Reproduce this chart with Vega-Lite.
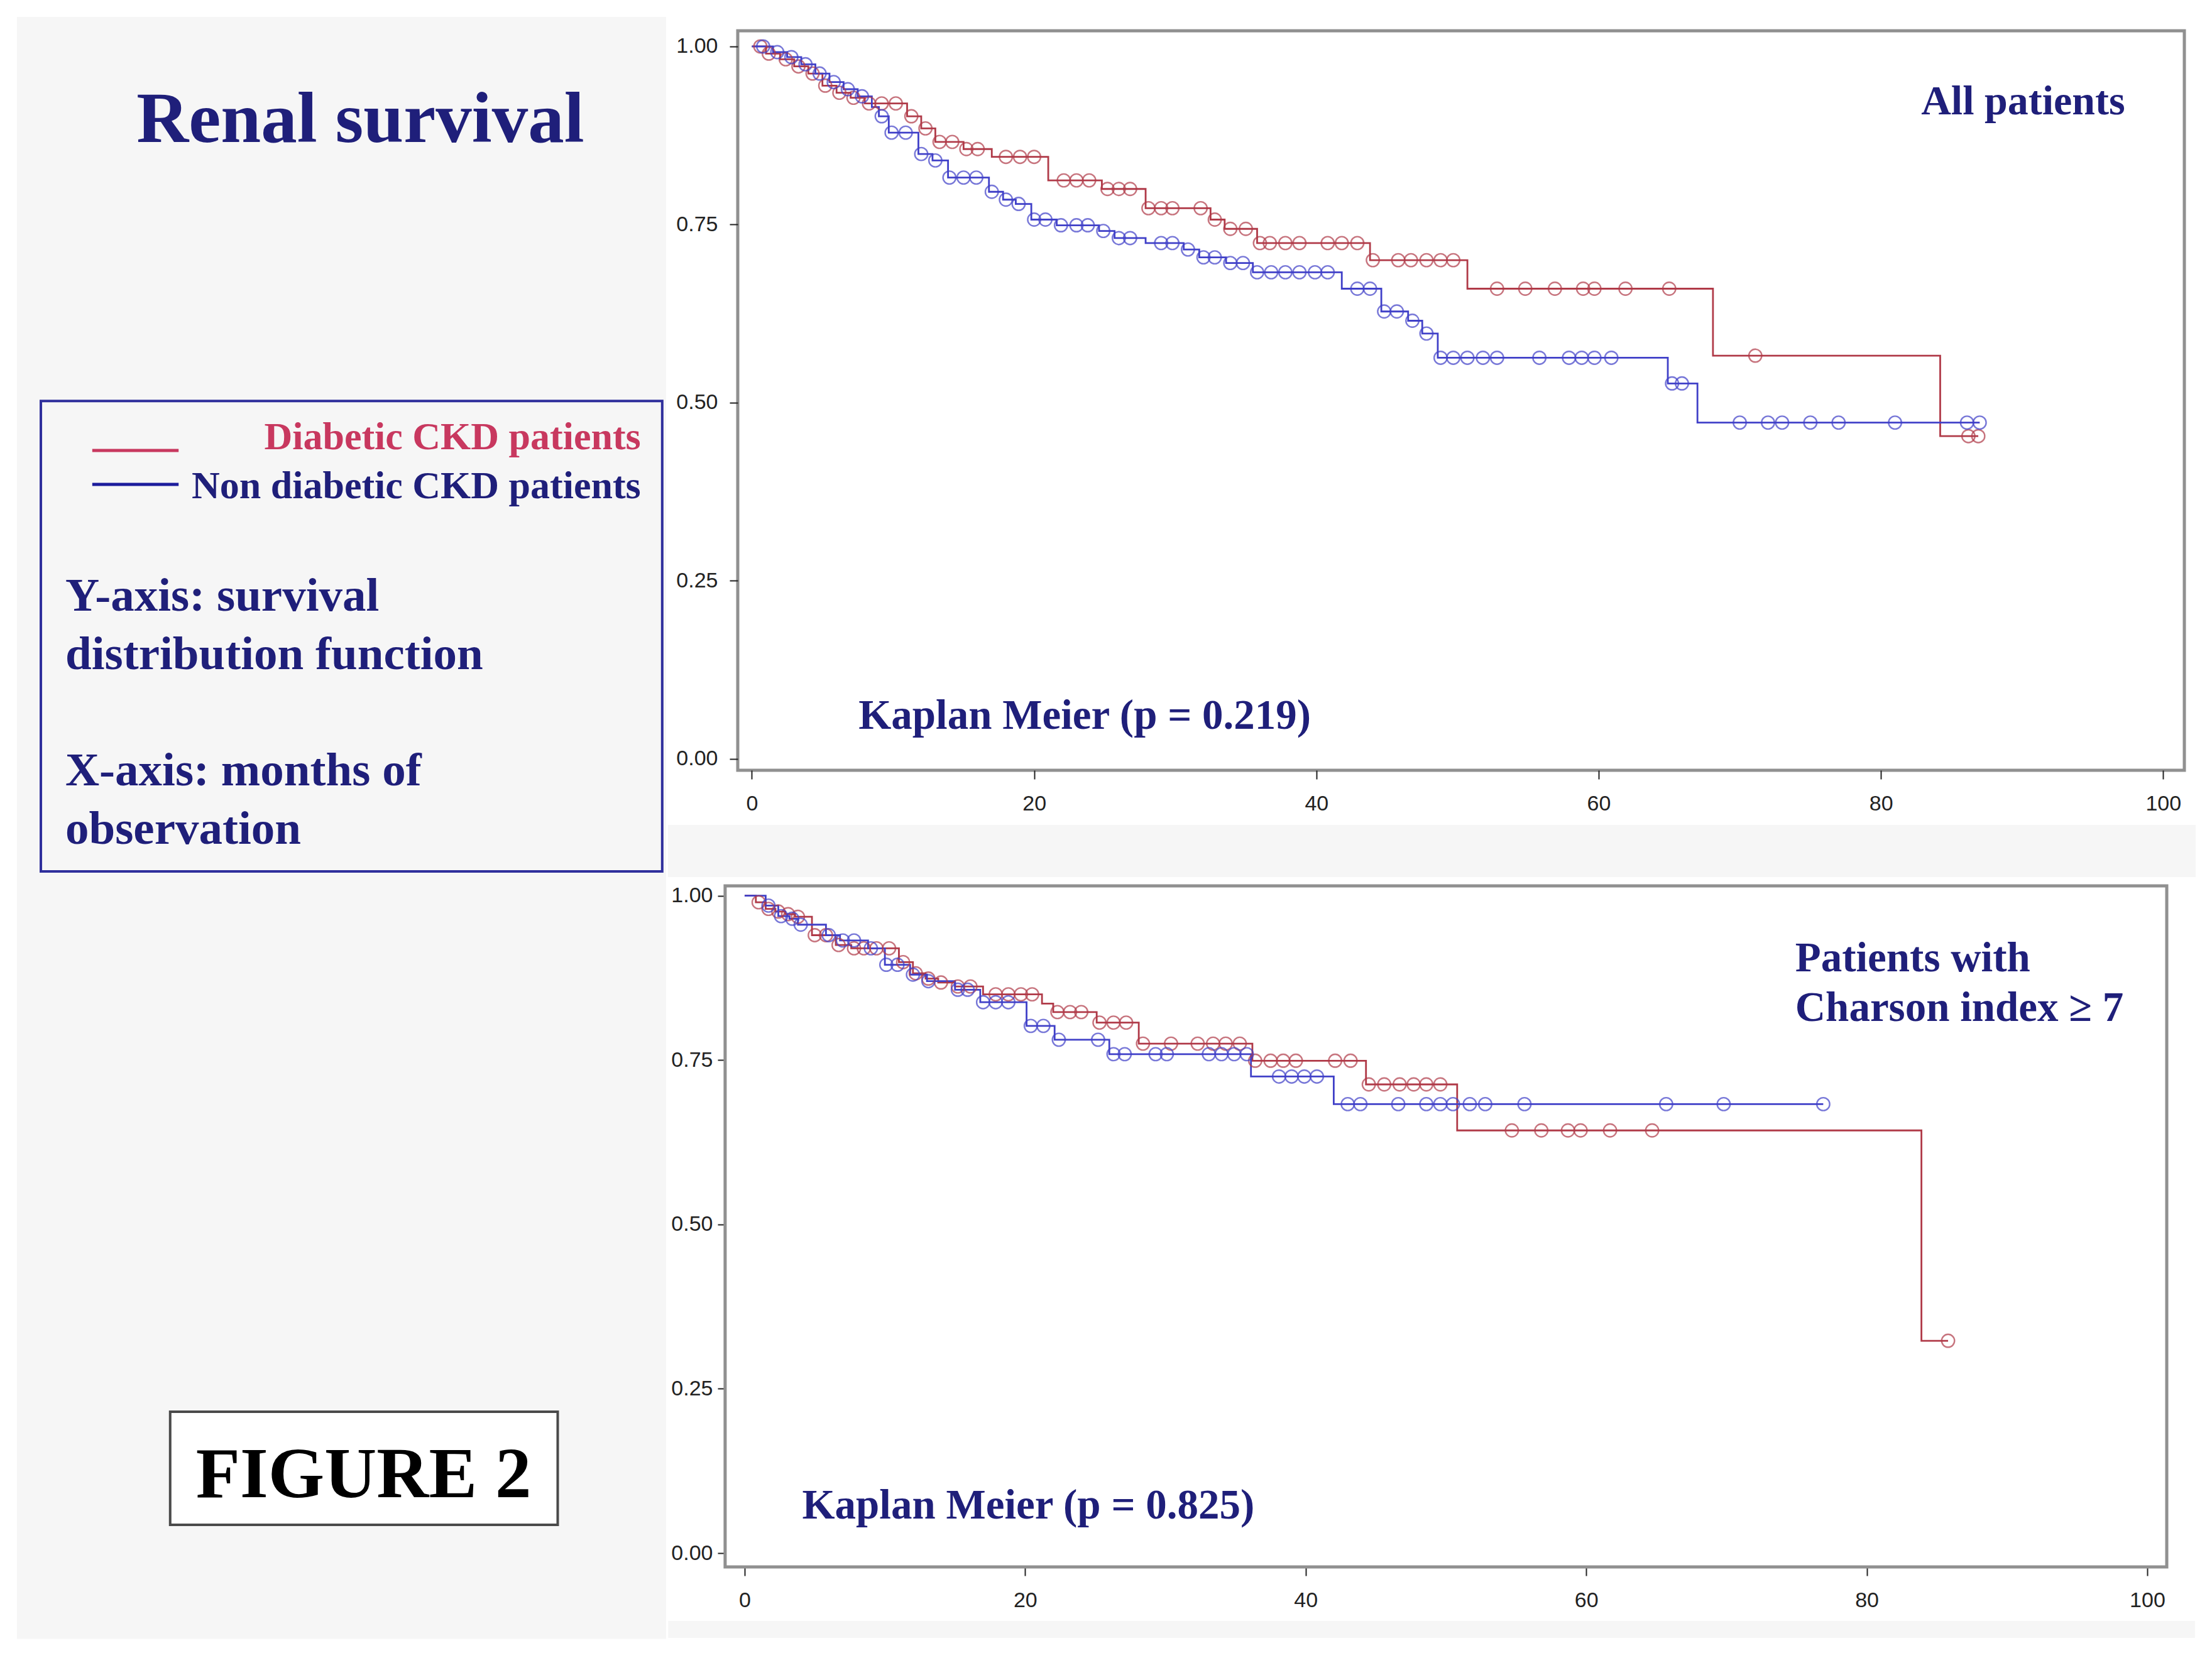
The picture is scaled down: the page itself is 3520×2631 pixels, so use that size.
{
  "$schema": "https://vega.github.io/schema/vega-lite/v6.json",
  "background": "#ffffff",
  "padding": {"left": 27, "top": 27, "right": 5, "bottom": 0},
  "columns": 2,
  "align": "none",
  "spacing": 0,
  "datasets": {
    "km": [
      {"panel": "all", "group": "Diabetic", "month": 0, "survival": 1, "censored": 0},
      {"panel": "all", "group": "Diabetic", "month": 0.6, "survival": 1, "censored": 1},
      {"panel": "all", "group": "Diabetic", "month": 1.0, "survival": 0.99, "censored": 0},
      {"panel": "all", "group": "Diabetic", "month": 1.2, "survival": 0.99, "censored": 1},
      {"panel": "all", "group": "Diabetic", "month": 2.0, "survival": 0.982, "censored": 0},
      {"panel": "all", "group": "Diabetic", "month": 2.4, "survival": 0.982, "censored": 1},
      {"panel": "all", "group": "Diabetic", "month": 3.0, "survival": 0.972, "censored": 0},
      {"panel": "all", "group": "Diabetic", "month": 3.3, "survival": 0.972, "censored": 1},
      {"panel": "all", "group": "Diabetic", "month": 4.0, "survival": 0.962, "censored": 0},
      {"panel": "all", "group": "Diabetic", "month": 4.3, "survival": 0.962, "censored": 1},
      {"panel": "all", "group": "Diabetic", "month": 5.0, "survival": 0.945, "censored": 0},
      {"panel": "all", "group": "Diabetic", "month": 5.2, "survival": 0.945, "censored": 1},
      {"panel": "all", "group": "Diabetic", "month": 6.0, "survival": 0.935, "censored": 0},
      {"panel": "all", "group": "Diabetic", "month": 6.2, "survival": 0.935, "censored": 1},
      {"panel": "all", "group": "Diabetic", "month": 7.0, "survival": 0.928, "censored": 0},
      {"panel": "all", "group": "Diabetic", "month": 7.2, "survival": 0.928, "censored": 1},
      {"panel": "all", "group": "Diabetic", "month": 8.0, "survival": 0.92, "censored": 0},
      {"panel": "all", "group": "Diabetic", "month": 8.3, "survival": 0.92, "censored": 1},
      {"panel": "all", "group": "Diabetic", "month": 9.2, "survival": 0.92, "censored": 1},
      {"panel": "all", "group": "Diabetic", "month": 10.2, "survival": 0.92, "censored": 1},
      {"panel": "all", "group": "Diabetic", "month": 11.0, "survival": 0.902, "censored": 0},
      {"panel": "all", "group": "Diabetic", "month": 11.3, "survival": 0.902, "censored": 1},
      {"panel": "all", "group": "Diabetic", "month": 12.0, "survival": 0.885, "censored": 0},
      {"panel": "all", "group": "Diabetic", "month": 12.3, "survival": 0.885, "censored": 1},
      {"panel": "all", "group": "Diabetic", "month": 13.0, "survival": 0.866, "censored": 0},
      {"panel": "all", "group": "Diabetic", "month": 13.3, "survival": 0.866, "censored": 1},
      {"panel": "all", "group": "Diabetic", "month": 14.2, "survival": 0.866, "censored": 1},
      {"panel": "all", "group": "Diabetic", "month": 15.0, "survival": 0.856, "censored": 0},
      {"panel": "all", "group": "Diabetic", "month": 15.2, "survival": 0.856, "censored": 1},
      {"panel": "all", "group": "Diabetic", "month": 16.0, "survival": 0.856, "censored": 1},
      {"panel": "all", "group": "Diabetic", "month": 17.0, "survival": 0.845, "censored": 0},
      {"panel": "all", "group": "Diabetic", "month": 18.0, "survival": 0.845, "censored": 1},
      {"panel": "all", "group": "Diabetic", "month": 19.0, "survival": 0.845, "censored": 1},
      {"panel": "all", "group": "Diabetic", "month": 20.0, "survival": 0.845, "censored": 1},
      {"panel": "all", "group": "Diabetic", "month": 21.0, "survival": 0.812, "censored": 0},
      {"panel": "all", "group": "Diabetic", "month": 22.1, "survival": 0.812, "censored": 1},
      {"panel": "all", "group": "Diabetic", "month": 23.0, "survival": 0.812, "censored": 1},
      {"panel": "all", "group": "Diabetic", "month": 23.9, "survival": 0.812, "censored": 1},
      {"panel": "all", "group": "Diabetic", "month": 24.8, "survival": 0.8, "censored": 0},
      {"panel": "all", "group": "Diabetic", "month": 25.2, "survival": 0.8, "censored": 1},
      {"panel": "all", "group": "Diabetic", "month": 26.0, "survival": 0.8, "censored": 1},
      {"panel": "all", "group": "Diabetic", "month": 26.8, "survival": 0.8, "censored": 1},
      {"panel": "all", "group": "Diabetic", "month": 27.9, "survival": 0.773, "censored": 0},
      {"panel": "all", "group": "Diabetic", "month": 28.1, "survival": 0.773, "censored": 1},
      {"panel": "all", "group": "Diabetic", "month": 29.0, "survival": 0.773, "censored": 1},
      {"panel": "all", "group": "Diabetic", "month": 29.8, "survival": 0.773, "censored": 1},
      {"panel": "all", "group": "Diabetic", "month": 31.8, "survival": 0.773, "censored": 1},
      {"panel": "all", "group": "Diabetic", "month": 32.5, "survival": 0.757, "censored": 0},
      {"panel": "all", "group": "Diabetic", "month": 32.8, "survival": 0.757, "censored": 1},
      {"panel": "all", "group": "Diabetic", "month": 33.5, "survival": 0.744, "censored": 0},
      {"panel": "all", "group": "Diabetic", "month": 33.9, "survival": 0.744, "censored": 1},
      {"panel": "all", "group": "Diabetic", "month": 35.0, "survival": 0.744, "censored": 1},
      {"panel": "all", "group": "Diabetic", "month": 35.8, "survival": 0.724, "censored": 0},
      {"panel": "all", "group": "Diabetic", "month": 36.0, "survival": 0.724, "censored": 1},
      {"panel": "all", "group": "Diabetic", "month": 36.7, "survival": 0.724, "censored": 1},
      {"panel": "all", "group": "Diabetic", "month": 37.8, "survival": 0.724, "censored": 1},
      {"panel": "all", "group": "Diabetic", "month": 38.8, "survival": 0.724, "censored": 1},
      {"panel": "all", "group": "Diabetic", "month": 40.8, "survival": 0.724, "censored": 1},
      {"panel": "all", "group": "Diabetic", "month": 41.8, "survival": 0.724, "censored": 1},
      {"panel": "all", "group": "Diabetic", "month": 42.9, "survival": 0.724, "censored": 1},
      {"panel": "all", "group": "Diabetic", "month": 43.8, "survival": 0.7, "censored": 0},
      {"panel": "all", "group": "Diabetic", "month": 44.0, "survival": 0.7, "censored": 1},
      {"panel": "all", "group": "Diabetic", "month": 45.8, "survival": 0.7, "censored": 1},
      {"panel": "all", "group": "Diabetic", "month": 46.7, "survival": 0.7, "censored": 1},
      {"panel": "all", "group": "Diabetic", "month": 47.8, "survival": 0.7, "censored": 1},
      {"panel": "all", "group": "Diabetic", "month": 48.8, "survival": 0.7, "censored": 1},
      {"panel": "all", "group": "Diabetic", "month": 49.7, "survival": 0.7, "censored": 1},
      {"panel": "all", "group": "Diabetic", "month": 50.7, "survival": 0.66, "censored": 0},
      {"panel": "all", "group": "Diabetic", "month": 52.8, "survival": 0.66, "censored": 1},
      {"panel": "all", "group": "Diabetic", "month": 54.8, "survival": 0.66, "censored": 1},
      {"panel": "all", "group": "Diabetic", "month": 56.9, "survival": 0.66, "censored": 1},
      {"panel": "all", "group": "Diabetic", "month": 58.9, "survival": 0.66, "censored": 1},
      {"panel": "all", "group": "Diabetic", "month": 59.7, "survival": 0.66, "censored": 1},
      {"panel": "all", "group": "Diabetic", "month": 61.9, "survival": 0.66, "censored": 1},
      {"panel": "all", "group": "Diabetic", "month": 65.0, "survival": 0.66, "censored": 1},
      {"panel": "all", "group": "Diabetic", "month": 68.1, "survival": 0.566, "censored": 0},
      {"panel": "all", "group": "Diabetic", "month": 71.1, "survival": 0.566, "censored": 1},
      {"panel": "all", "group": "Diabetic", "month": 84.2, "survival": 0.453, "censored": 0},
      {"panel": "all", "group": "Diabetic", "month": 86.2, "survival": 0.453, "censored": 1},
      {"panel": "all", "group": "Diabetic", "month": 86.9, "survival": 0.453, "censored": 1},

      {"panel": "all", "group": "Non diabetic", "month": 0, "survival": 1, "censored": 0},
      {"panel": "all", "group": "Non diabetic", "month": 0.8, "survival": 1, "censored": 1},
      {"panel": "all", "group": "Non diabetic", "month": 1.5, "survival": 0.992, "censored": 0},
      {"panel": "all", "group": "Non diabetic", "month": 1.8, "survival": 0.992, "censored": 1},
      {"panel": "all", "group": "Non diabetic", "month": 2.5, "survival": 0.985, "censored": 0},
      {"panel": "all", "group": "Non diabetic", "month": 2.8, "survival": 0.985, "censored": 1},
      {"panel": "all", "group": "Non diabetic", "month": 3.5, "survival": 0.975, "censored": 0},
      {"panel": "all", "group": "Non diabetic", "month": 3.8, "survival": 0.975, "censored": 1},
      {"panel": "all", "group": "Non diabetic", "month": 4.5, "survival": 0.962, "censored": 0},
      {"panel": "all", "group": "Non diabetic", "month": 4.8, "survival": 0.962, "censored": 1},
      {"panel": "all", "group": "Non diabetic", "month": 5.5, "survival": 0.95, "censored": 0},
      {"panel": "all", "group": "Non diabetic", "month": 5.8, "survival": 0.95, "censored": 1},
      {"panel": "all", "group": "Non diabetic", "month": 6.5, "survival": 0.94, "censored": 0},
      {"panel": "all", "group": "Non diabetic", "month": 6.8, "survival": 0.94, "censored": 1},
      {"panel": "all", "group": "Non diabetic", "month": 7.5, "survival": 0.93, "censored": 0},
      {"panel": "all", "group": "Non diabetic", "month": 7.8, "survival": 0.93, "censored": 1},
      {"panel": "all", "group": "Non diabetic", "month": 8.5, "survival": 0.915, "censored": 0},
      {"panel": "all", "group": "Non diabetic", "month": 9.0, "survival": 0.902, "censored": 0},
      {"panel": "all", "group": "Non diabetic", "month": 9.2, "survival": 0.902, "censored": 1},
      {"panel": "all", "group": "Non diabetic", "month": 9.7, "survival": 0.879, "censored": 0},
      {"panel": "all", "group": "Non diabetic", "month": 9.9, "survival": 0.879, "censored": 1},
      {"panel": "all", "group": "Non diabetic", "month": 10.9, "survival": 0.879, "censored": 1},
      {"panel": "all", "group": "Non diabetic", "month": 11.8, "survival": 0.849, "censored": 0},
      {"panel": "all", "group": "Non diabetic", "month": 12.0, "survival": 0.849, "censored": 1},
      {"panel": "all", "group": "Non diabetic", "month": 12.8, "survival": 0.84, "censored": 0},
      {"panel": "all", "group": "Non diabetic", "month": 13.0, "survival": 0.84, "censored": 1},
      {"panel": "all", "group": "Non diabetic", "month": 13.9, "survival": 0.816, "censored": 0},
      {"panel": "all", "group": "Non diabetic", "month": 14.0, "survival": 0.816, "censored": 1},
      {"panel": "all", "group": "Non diabetic", "month": 15.0, "survival": 0.816, "censored": 1},
      {"panel": "all", "group": "Non diabetic", "month": 15.9, "survival": 0.816, "censored": 1},
      {"panel": "all", "group": "Non diabetic", "month": 16.8, "survival": 0.796, "censored": 0},
      {"panel": "all", "group": "Non diabetic", "month": 17.0, "survival": 0.796, "censored": 1},
      {"panel": "all", "group": "Non diabetic", "month": 17.8, "survival": 0.785, "censored": 0},
      {"panel": "all", "group": "Non diabetic", "month": 18.0, "survival": 0.785, "censored": 1},
      {"panel": "all", "group": "Non diabetic", "month": 18.7, "survival": 0.779, "censored": 0},
      {"panel": "all", "group": "Non diabetic", "month": 18.9, "survival": 0.779, "censored": 1},
      {"panel": "all", "group": "Non diabetic", "month": 19.8, "survival": 0.757, "censored": 0},
      {"panel": "all", "group": "Non diabetic", "month": 20.0, "survival": 0.757, "censored": 1},
      {"panel": "all", "group": "Non diabetic", "month": 20.8, "survival": 0.757, "censored": 1},
      {"panel": "all", "group": "Non diabetic", "month": 21.6, "survival": 0.749, "censored": 0},
      {"panel": "all", "group": "Non diabetic", "month": 21.9, "survival": 0.749, "censored": 1},
      {"panel": "all", "group": "Non diabetic", "month": 23.0, "survival": 0.749, "censored": 1},
      {"panel": "all", "group": "Non diabetic", "month": 23.8, "survival": 0.749, "censored": 1},
      {"panel": "all", "group": "Non diabetic", "month": 24.6, "survival": 0.741, "censored": 0},
      {"panel": "all", "group": "Non diabetic", "month": 24.9, "survival": 0.741, "censored": 1},
      {"panel": "all", "group": "Non diabetic", "month": 25.7, "survival": 0.731, "censored": 0},
      {"panel": "all", "group": "Non diabetic", "month": 26.0, "survival": 0.731, "censored": 1},
      {"panel": "all", "group": "Non diabetic", "month": 26.8, "survival": 0.731, "censored": 1},
      {"panel": "all", "group": "Non diabetic", "month": 27.9, "survival": 0.724, "censored": 0},
      {"panel": "all", "group": "Non diabetic", "month": 29.0, "survival": 0.724, "censored": 1},
      {"panel": "all", "group": "Non diabetic", "month": 29.8, "survival": 0.724, "censored": 1},
      {"panel": "all", "group": "Non diabetic", "month": 30.6, "survival": 0.715, "censored": 0},
      {"panel": "all", "group": "Non diabetic", "month": 30.9, "survival": 0.715, "censored": 1},
      {"panel": "all", "group": "Non diabetic", "month": 31.7, "survival": 0.704, "censored": 0},
      {"panel": "all", "group": "Non diabetic", "month": 32.0, "survival": 0.704, "censored": 1},
      {"panel": "all", "group": "Non diabetic", "month": 32.8, "survival": 0.704, "censored": 1},
      {"panel": "all", "group": "Non diabetic", "month": 33.6, "survival": 0.696, "censored": 0},
      {"panel": "all", "group": "Non diabetic", "month": 33.9, "survival": 0.696, "censored": 1},
      {"panel": "all", "group": "Non diabetic", "month": 34.8, "survival": 0.696, "censored": 1},
      {"panel": "all", "group": "Non diabetic", "month": 35.5, "survival": 0.683, "censored": 0},
      {"panel": "all", "group": "Non diabetic", "month": 35.8, "survival": 0.683, "censored": 1},
      {"panel": "all", "group": "Non diabetic", "month": 36.8, "survival": 0.683, "censored": 1},
      {"panel": "all", "group": "Non diabetic", "month": 37.8, "survival": 0.683, "censored": 1},
      {"panel": "all", "group": "Non diabetic", "month": 38.8, "survival": 0.683, "censored": 1},
      {"panel": "all", "group": "Non diabetic", "month": 39.9, "survival": 0.683, "censored": 1},
      {"panel": "all", "group": "Non diabetic", "month": 40.8, "survival": 0.683, "censored": 1},
      {"panel": "all", "group": "Non diabetic", "month": 41.8, "survival": 0.66, "censored": 0},
      {"panel": "all", "group": "Non diabetic", "month": 42.9, "survival": 0.66, "censored": 1},
      {"panel": "all", "group": "Non diabetic", "month": 43.8, "survival": 0.66, "censored": 1},
      {"panel": "all", "group": "Non diabetic", "month": 44.6, "survival": 0.628, "censored": 0},
      {"panel": "all", "group": "Non diabetic", "month": 44.8, "survival": 0.628, "censored": 1},
      {"panel": "all", "group": "Non diabetic", "month": 45.7, "survival": 0.628, "censored": 1},
      {"panel": "all", "group": "Non diabetic", "month": 46.5, "survival": 0.615, "censored": 0},
      {"panel": "all", "group": "Non diabetic", "month": 46.8, "survival": 0.615, "censored": 1},
      {"panel": "all", "group": "Non diabetic", "month": 47.5, "survival": 0.597, "censored": 0},
      {"panel": "all", "group": "Non diabetic", "month": 47.8, "survival": 0.597, "censored": 1},
      {"panel": "all", "group": "Non diabetic", "month": 48.6, "survival": 0.563, "censored": 0},
      {"panel": "all", "group": "Non diabetic", "month": 48.8, "survival": 0.563, "censored": 1},
      {"panel": "all", "group": "Non diabetic", "month": 49.7, "survival": 0.563, "censored": 1},
      {"panel": "all", "group": "Non diabetic", "month": 50.7, "survival": 0.563, "censored": 1},
      {"panel": "all", "group": "Non diabetic", "month": 51.8, "survival": 0.563, "censored": 1},
      {"panel": "all", "group": "Non diabetic", "month": 52.8, "survival": 0.563, "censored": 1},
      {"panel": "all", "group": "Non diabetic", "month": 55.8, "survival": 0.563, "censored": 1},
      {"panel": "all", "group": "Non diabetic", "month": 57.9, "survival": 0.563, "censored": 1},
      {"panel": "all", "group": "Non diabetic", "month": 58.8, "survival": 0.563, "censored": 1},
      {"panel": "all", "group": "Non diabetic", "month": 59.7, "survival": 0.563, "censored": 1},
      {"panel": "all", "group": "Non diabetic", "month": 60.9, "survival": 0.563, "censored": 1},
      {"panel": "all", "group": "Non diabetic", "month": 64.9, "survival": 0.527, "censored": 0},
      {"panel": "all", "group": "Non diabetic", "month": 65.2, "survival": 0.527, "censored": 1},
      {"panel": "all", "group": "Non diabetic", "month": 65.9, "survival": 0.527, "censored": 1},
      {"panel": "all", "group": "Non diabetic", "month": 67.0, "survival": 0.472, "censored": 0},
      {"panel": "all", "group": "Non diabetic", "month": 70.0, "survival": 0.472, "censored": 1},
      {"panel": "all", "group": "Non diabetic", "month": 72.0, "survival": 0.472, "censored": 1},
      {"panel": "all", "group": "Non diabetic", "month": 73.0, "survival": 0.472, "censored": 1},
      {"panel": "all", "group": "Non diabetic", "month": 75.0, "survival": 0.472, "censored": 1},
      {"panel": "all", "group": "Non diabetic", "month": 77.0, "survival": 0.472, "censored": 1},
      {"panel": "all", "group": "Non diabetic", "month": 81.0, "survival": 0.472, "censored": 1},
      {"panel": "all", "group": "Non diabetic", "month": 86.1, "survival": 0.472, "censored": 1},
      {"panel": "all", "group": "Non diabetic", "month": 87.0, "survival": 0.472, "censored": 1},

      {"panel": "ch7", "group": "Diabetic", "month": 0, "survival": 1, "censored": 0},
      {"panel": "ch7", "group": "Diabetic", "month": 0.8, "survival": 0.99, "censored": 0},
      {"panel": "ch7", "group": "Diabetic", "month": 1.0, "survival": 0.99, "censored": 1},
      {"panel": "ch7", "group": "Diabetic", "month": 1.5, "survival": 0.98, "censored": 0},
      {"panel": "ch7", "group": "Diabetic", "month": 1.7, "survival": 0.98, "censored": 1},
      {"panel": "ch7", "group": "Diabetic", "month": 2.2, "survival": 0.976, "censored": 0},
      {"panel": "ch7", "group": "Diabetic", "month": 2.4, "survival": 0.976, "censored": 1},
      {"panel": "ch7", "group": "Diabetic", "month": 2.9, "survival": 0.972, "censored": 0},
      {"panel": "ch7", "group": "Diabetic", "month": 3.1, "survival": 0.972, "censored": 1},
      {"panel": "ch7", "group": "Diabetic", "month": 3.6, "survival": 0.968, "censored": 0},
      {"panel": "ch7", "group": "Diabetic", "month": 3.8, "survival": 0.968, "censored": 1},
      {"panel": "ch7", "group": "Diabetic", "month": 4.8, "survival": 0.94, "censored": 0},
      {"panel": "ch7", "group": "Diabetic", "month": 5.0, "survival": 0.94, "censored": 1},
      {"panel": "ch7", "group": "Diabetic", "month": 5.8, "survival": 0.94, "censored": 1},
      {"panel": "ch7", "group": "Diabetic", "month": 6.5, "survival": 0.925, "censored": 0},
      {"panel": "ch7", "group": "Diabetic", "month": 6.7, "survival": 0.925, "censored": 1},
      {"panel": "ch7", "group": "Diabetic", "month": 7.6, "survival": 0.92, "censored": 0},
      {"panel": "ch7", "group": "Diabetic", "month": 7.8, "survival": 0.92, "censored": 1},
      {"panel": "ch7", "group": "Diabetic", "month": 8.5, "survival": 0.92, "censored": 1},
      {"panel": "ch7", "group": "Diabetic", "month": 9.4, "survival": 0.92, "censored": 1},
      {"panel": "ch7", "group": "Diabetic", "month": 10.3, "survival": 0.92, "censored": 1},
      {"panel": "ch7", "group": "Diabetic", "month": 11.0, "survival": 0.899, "censored": 0},
      {"panel": "ch7", "group": "Diabetic", "month": 11.3, "survival": 0.899, "censored": 1},
      {"panel": "ch7", "group": "Diabetic", "month": 12.0, "survival": 0.882, "censored": 0},
      {"panel": "ch7", "group": "Diabetic", "month": 12.2, "survival": 0.882, "censored": 1},
      {"panel": "ch7", "group": "Diabetic", "month": 12.9, "survival": 0.874, "censored": 0},
      {"panel": "ch7", "group": "Diabetic", "month": 13.1, "survival": 0.874, "censored": 1},
      {"panel": "ch7", "group": "Diabetic", "month": 13.8, "survival": 0.868, "censored": 0},
      {"panel": "ch7", "group": "Diabetic", "month": 14.0, "survival": 0.868, "censored": 1},
      {"panel": "ch7", "group": "Diabetic", "month": 15.0, "survival": 0.862, "censored": 0},
      {"panel": "ch7", "group": "Diabetic", "month": 15.2, "survival": 0.862, "censored": 1},
      {"panel": "ch7", "group": "Diabetic", "month": 16.1, "survival": 0.862, "censored": 1},
      {"panel": "ch7", "group": "Diabetic", "month": 17.0, "survival": 0.85, "censored": 0},
      {"panel": "ch7", "group": "Diabetic", "month": 17.9, "survival": 0.85, "censored": 1},
      {"panel": "ch7", "group": "Diabetic", "month": 18.8, "survival": 0.85, "censored": 1},
      {"panel": "ch7", "group": "Diabetic", "month": 19.7, "survival": 0.85, "censored": 1},
      {"panel": "ch7", "group": "Diabetic", "month": 20.5, "survival": 0.85, "censored": 1},
      {"panel": "ch7", "group": "Diabetic", "month": 21.2, "survival": 0.836, "censored": 0},
      {"panel": "ch7", "group": "Diabetic", "month": 22.0, "survival": 0.823, "censored": 0},
      {"panel": "ch7", "group": "Diabetic", "month": 22.3, "survival": 0.823, "censored": 1},
      {"panel": "ch7", "group": "Diabetic", "month": 23.2, "survival": 0.823, "censored": 1},
      {"panel": "ch7", "group": "Diabetic", "month": 24.0, "survival": 0.823, "censored": 1},
      {"panel": "ch7", "group": "Diabetic", "month": 25.1, "survival": 0.807, "censored": 0},
      {"panel": "ch7", "group": "Diabetic", "month": 25.3, "survival": 0.807, "censored": 1},
      {"panel": "ch7", "group": "Diabetic", "month": 26.3, "survival": 0.807, "censored": 1},
      {"panel": "ch7", "group": "Diabetic", "month": 27.2, "survival": 0.807, "censored": 1},
      {"panel": "ch7", "group": "Diabetic", "month": 28.1, "survival": 0.775, "censored": 0},
      {"panel": "ch7", "group": "Diabetic", "month": 28.4, "survival": 0.775, "censored": 1},
      {"panel": "ch7", "group": "Diabetic", "month": 30.4, "survival": 0.775, "censored": 1},
      {"panel": "ch7", "group": "Diabetic", "month": 32.3, "survival": 0.775, "censored": 1},
      {"panel": "ch7", "group": "Diabetic", "month": 33.4, "survival": 0.775, "censored": 1},
      {"panel": "ch7", "group": "Diabetic", "month": 34.3, "survival": 0.775, "censored": 1},
      {"panel": "ch7", "group": "Diabetic", "month": 35.3, "survival": 0.775, "censored": 1},
      {"panel": "ch7", "group": "Diabetic", "month": 36.2, "survival": 0.749, "censored": 0},
      {"panel": "ch7", "group": "Diabetic", "month": 36.4, "survival": 0.749, "censored": 1},
      {"panel": "ch7", "group": "Diabetic", "month": 37.5, "survival": 0.749, "censored": 1},
      {"panel": "ch7", "group": "Diabetic", "month": 38.4, "survival": 0.749, "censored": 1},
      {"panel": "ch7", "group": "Diabetic", "month": 39.3, "survival": 0.749, "censored": 1},
      {"panel": "ch7", "group": "Diabetic", "month": 42.1, "survival": 0.749, "censored": 1},
      {"panel": "ch7", "group": "Diabetic", "month": 43.2, "survival": 0.749, "censored": 1},
      {"panel": "ch7", "group": "Diabetic", "month": 44.3, "survival": 0.713, "censored": 0},
      {"panel": "ch7", "group": "Diabetic", "month": 44.5, "survival": 0.713, "censored": 1},
      {"panel": "ch7", "group": "Diabetic", "month": 45.6, "survival": 0.713, "censored": 1},
      {"panel": "ch7", "group": "Diabetic", "month": 46.7, "survival": 0.713, "censored": 1},
      {"panel": "ch7", "group": "Diabetic", "month": 47.7, "survival": 0.713, "censored": 1},
      {"panel": "ch7", "group": "Diabetic", "month": 48.6, "survival": 0.713, "censored": 1},
      {"panel": "ch7", "group": "Diabetic", "month": 49.6, "survival": 0.713, "censored": 1},
      {"panel": "ch7", "group": "Diabetic", "month": 50.8, "survival": 0.643, "censored": 0},
      {"panel": "ch7", "group": "Diabetic", "month": 54.7, "survival": 0.643, "censored": 1},
      {"panel": "ch7", "group": "Diabetic", "month": 56.8, "survival": 0.643, "censored": 1},
      {"panel": "ch7", "group": "Diabetic", "month": 58.7, "survival": 0.643, "censored": 1},
      {"panel": "ch7", "group": "Diabetic", "month": 59.6, "survival": 0.643, "censored": 1},
      {"panel": "ch7", "group": "Diabetic", "month": 61.7, "survival": 0.643, "censored": 1},
      {"panel": "ch7", "group": "Diabetic", "month": 64.7, "survival": 0.643, "censored": 1},
      {"panel": "ch7", "group": "Diabetic", "month": 83.9, "survival": 0.323, "censored": 0},
      {"panel": "ch7", "group": "Diabetic", "month": 85.8, "survival": 0.323, "censored": 1},

      {"panel": "ch7", "group": "Non diabetic", "month": 0, "survival": 1, "censored": 0},
      {"panel": "ch7", "group": "Non diabetic", "month": 1.5, "survival": 0.985, "censored": 0},
      {"panel": "ch7", "group": "Non diabetic", "month": 1.7, "survival": 0.985, "censored": 1},
      {"panel": "ch7", "group": "Non diabetic", "month": 2.4, "survival": 0.969, "censored": 0},
      {"panel": "ch7", "group": "Non diabetic", "month": 2.6, "survival": 0.969, "censored": 1},
      {"panel": "ch7", "group": "Non diabetic", "month": 3.2, "survival": 0.965, "censored": 0},
      {"panel": "ch7", "group": "Non diabetic", "month": 3.4, "survival": 0.965, "censored": 1},
      {"panel": "ch7", "group": "Non diabetic", "month": 3.8, "survival": 0.956, "censored": 0},
      {"panel": "ch7", "group": "Non diabetic", "month": 4.0, "survival": 0.956, "censored": 1},
      {"panel": "ch7", "group": "Non diabetic", "month": 5.8, "survival": 0.94, "censored": 0},
      {"panel": "ch7", "group": "Non diabetic", "month": 6.0, "survival": 0.94, "censored": 1},
      {"panel": "ch7", "group": "Non diabetic", "month": 6.8, "survival": 0.932, "censored": 0},
      {"panel": "ch7", "group": "Non diabetic", "month": 7.0, "survival": 0.932, "censored": 1},
      {"panel": "ch7", "group": "Non diabetic", "month": 7.8, "survival": 0.932, "censored": 1},
      {"panel": "ch7", "group": "Non diabetic", "month": 8.8, "survival": 0.92, "censored": 0},
      {"panel": "ch7", "group": "Non diabetic", "month": 9.0, "survival": 0.92, "censored": 1},
      {"panel": "ch7", "group": "Non diabetic", "month": 10.0, "survival": 0.895, "censored": 0},
      {"panel": "ch7", "group": "Non diabetic", "month": 10.1, "survival": 0.895, "censored": 1},
      {"panel": "ch7", "group": "Non diabetic", "month": 10.9, "survival": 0.895, "censored": 1},
      {"panel": "ch7", "group": "Non diabetic", "month": 11.8, "survival": 0.88, "censored": 0},
      {"panel": "ch7", "group": "Non diabetic", "month": 12.0, "survival": 0.88, "censored": 1},
      {"panel": "ch7", "group": "Non diabetic", "month": 13.0, "survival": 0.87, "censored": 0},
      {"panel": "ch7", "group": "Non diabetic", "month": 13.1, "survival": 0.87, "censored": 1},
      {"panel": "ch7", "group": "Non diabetic", "month": 15.0, "survival": 0.857, "censored": 0},
      {"panel": "ch7", "group": "Non diabetic", "month": 15.2, "survival": 0.857, "censored": 1},
      {"panel": "ch7", "group": "Non diabetic", "month": 15.9, "survival": 0.857, "censored": 1},
      {"panel": "ch7", "group": "Non diabetic", "month": 16.8, "survival": 0.838, "censored": 0},
      {"panel": "ch7", "group": "Non diabetic", "month": 17.0, "survival": 0.838, "censored": 1},
      {"panel": "ch7", "group": "Non diabetic", "month": 17.9, "survival": 0.838, "censored": 1},
      {"panel": "ch7", "group": "Non diabetic", "month": 18.8, "survival": 0.838, "censored": 1},
      {"panel": "ch7", "group": "Non diabetic", "month": 20.1, "survival": 0.802, "censored": 0},
      {"panel": "ch7", "group": "Non diabetic", "month": 20.4, "survival": 0.802, "censored": 1},
      {"panel": "ch7", "group": "Non diabetic", "month": 21.3, "survival": 0.802, "censored": 1},
      {"panel": "ch7", "group": "Non diabetic", "month": 22.1, "survival": 0.781, "censored": 0},
      {"panel": "ch7", "group": "Non diabetic", "month": 22.4, "survival": 0.781, "censored": 1},
      {"panel": "ch7", "group": "Non diabetic", "month": 25.2, "survival": 0.781, "censored": 1},
      {"panel": "ch7", "group": "Non diabetic", "month": 26.0, "survival": 0.759, "censored": 0},
      {"panel": "ch7", "group": "Non diabetic", "month": 26.3, "survival": 0.759, "censored": 1},
      {"panel": "ch7", "group": "Non diabetic", "month": 27.1, "survival": 0.759, "censored": 1},
      {"panel": "ch7", "group": "Non diabetic", "month": 29.3, "survival": 0.759, "censored": 1},
      {"panel": "ch7", "group": "Non diabetic", "month": 30.1, "survival": 0.759, "censored": 1},
      {"panel": "ch7", "group": "Non diabetic", "month": 33.1, "survival": 0.759, "censored": 1},
      {"panel": "ch7", "group": "Non diabetic", "month": 34.0, "survival": 0.759, "censored": 1},
      {"panel": "ch7", "group": "Non diabetic", "month": 34.9, "survival": 0.759, "censored": 1},
      {"panel": "ch7", "group": "Non diabetic", "month": 35.8, "survival": 0.759, "censored": 1},
      {"panel": "ch7", "group": "Non diabetic", "month": 36.1, "survival": 0.725, "censored": 0},
      {"panel": "ch7", "group": "Non diabetic", "month": 38.1, "survival": 0.725, "censored": 1},
      {"panel": "ch7", "group": "Non diabetic", "month": 39.0, "survival": 0.725, "censored": 1},
      {"panel": "ch7", "group": "Non diabetic", "month": 39.9, "survival": 0.725, "censored": 1},
      {"panel": "ch7", "group": "Non diabetic", "month": 40.8, "survival": 0.725, "censored": 1},
      {"panel": "ch7", "group": "Non diabetic", "month": 42.0, "survival": 0.683, "censored": 0},
      {"panel": "ch7", "group": "Non diabetic", "month": 43.0, "survival": 0.683, "censored": 1},
      {"panel": "ch7", "group": "Non diabetic", "month": 43.9, "survival": 0.683, "censored": 1},
      {"panel": "ch7", "group": "Non diabetic", "month": 46.6, "survival": 0.683, "censored": 1},
      {"panel": "ch7", "group": "Non diabetic", "month": 48.6, "survival": 0.683, "censored": 1},
      {"panel": "ch7", "group": "Non diabetic", "month": 49.6, "survival": 0.683, "censored": 1},
      {"panel": "ch7", "group": "Non diabetic", "month": 50.5, "survival": 0.683, "censored": 1},
      {"panel": "ch7", "group": "Non diabetic", "month": 51.7, "survival": 0.683, "censored": 1},
      {"panel": "ch7", "group": "Non diabetic", "month": 52.8, "survival": 0.683, "censored": 1},
      {"panel": "ch7", "group": "Non diabetic", "month": 55.6, "survival": 0.683, "censored": 1},
      {"panel": "ch7", "group": "Non diabetic", "month": 65.7, "survival": 0.683, "censored": 1},
      {"panel": "ch7", "group": "Non diabetic", "month": 69.8, "survival": 0.683, "censored": 1},
      {"panel": "ch7", "group": "Non diabetic", "month": 76.9, "survival": 0.683, "censored": 1}
    ]
  },
  "concat": [
    {
      "width": 1033,
      "height": 2575,
      "view": {"fill": null, "stroke": null},
      "layer": [
        {
          "data": {"values": [{"box": "slide"}]},
          "mark": {"type": "rect", "fill": "#f6f6f6", "stroke": null},
          "encoding": {
            "x": {"datum": 0, "type": "quantitative", "scale": {"domain": [0, 100], "nice": false}, "axis": null},
            "x2": {"datum": 100},
            "y": {"datum": -0.854, "type": "quantitative", "scale": {"domain": [0, 100], "nice": false, "reverse": true}, "axis": null},
            "y2": {"datum": 99.4}
          }
        },
        {
          "data": {"values": [{"box": "legend"}]},
          "mark": {"type": "rect", "fill": "#f6f6f6", "stroke": "#2f2f9c", "strokeWidth": 4},
          "encoding": {
            "x": {"datum": 3.68, "type": "quantitative", "axis": null},
            "x2": {"datum": 99.4},
            "y": {"datum": 22.88, "type": "quantitative", "axis": null},
            "y2": {"datum": 51.96}
          }
        },
        {
          "data": {"values": [{"box": "figure"}]},
          "mark": {"type": "rect", "fill": "#ffffff", "stroke": "#4a4a4a", "strokeWidth": 4},
          "encoding": {
            "x": {"datum": 23.6, "type": "quantitative", "axis": null},
            "x2": {"datum": 83.3},
            "y": {"datum": 85.36, "type": "quantitative", "axis": null},
            "y2": {"datum": 92.35}
          }
        },
        {
          "data": {"values": [{"group": "Diabetic"}]},
          "mark": {"type": "rule", "color": "#c8385f", "strokeWidth": 5},
          "encoding": {
            "x": {"datum": 11.6, "type": "quantitative", "axis": null},
            "x2": {"datum": 24.9},
            "y": {"datum": 25.94, "type": "quantitative", "axis": null}
          }
        },
        {
          "data": {"values": [{"group": "Non diabetic"}]},
          "mark": {"type": "rule", "color": "#1c1c9c", "strokeWidth": 5},
          "encoding": {
            "x": {"datum": 11.6, "type": "quantitative", "axis": null},
            "x2": {"datum": 24.9},
            "y": {"datum": 28.04, "type": "quantitative", "axis": null}
          }
        },
        {
          "data": {"values": [{"label": "Renal survival"}]},
          "mark": {"type": "text", "font": "Liberation Serif", "fontWeight": "bold", "fontSize": 115, "color": "#1f1f7a", "align": "center", "baseline": "alphabetic"},
          "encoding": {
            "text": {"field": "label"},
            "x": {"datum": 52.9, "type": "quantitative", "axis": null},
            "y": {"datum": 6.87, "type": "quantitative", "axis": null}
          }
        },
        {
          "data": {"values": [{"label": "Diabetic CKD patients"}]},
          "mark": {"type": "text", "font": "Liberation Serif", "fontWeight": "bold", "fontSize": 62, "color": "#c8385f", "align": "right", "baseline": "alphabetic"},
          "encoding": {
            "text": {"field": "label"},
            "x": {"datum": 96.1, "type": "quantitative", "axis": null},
            "y": {"datum": 25.87, "type": "quantitative", "axis": null}
          }
        },
        {
          "data": {"values": [{"label": "Non diabetic CKD patients"}]},
          "mark": {"type": "text", "font": "Liberation Serif", "fontWeight": "bold", "fontSize": 62, "color": "#1f1f7a", "align": "right", "baseline": "alphabetic"},
          "encoding": {
            "text": {"field": "label"},
            "x": {"datum": 96.1, "type": "quantitative", "axis": null},
            "y": {"datum": 28.89, "type": "quantitative", "axis": null}
          }
        },
        {
          "data": {"values": [{"label": ["Y-axis: survival", "distribution function"]}]},
          "mark": {"type": "text", "font": "Liberation Serif", "fontWeight": "bold", "fontSize": 75, "color": "#1f1f7a", "align": "left", "baseline": "alphabetic", "lineHeight": 93},
          "encoding": {
            "text": {"field": "label"},
            "x": {"datum": 7.45, "type": "quantitative", "axis": null},
            "y": {"datum": 35.84, "type": "quantitative", "axis": null}
          }
        },
        {
          "data": {"values": [{"label": ["X-axis: months of", "observation"]}]},
          "mark": {"type": "text", "font": "Liberation Serif", "fontWeight": "bold", "fontSize": 75, "color": "#1f1f7a", "align": "left", "baseline": "alphabetic", "lineHeight": 93},
          "encoding": {
            "text": {"field": "label"},
            "x": {"datum": 7.45, "type": "quantitative", "axis": null},
            "y": {"datum": 46.64, "type": "quantitative", "axis": null}
          }
        },
        {
          "data": {"values": [{"label": "FIGURE 2"}]},
          "mark": {"type": "text", "font": "Liberation Serif", "fontWeight": "bold", "fontSize": 115, "color": "#000000", "align": "center", "baseline": "alphabetic"},
          "encoding": {
            "text": {"field": "label"},
            "x": {"datum": 53.4, "type": "quantitative", "axis": null},
            "y": {"datum": 90.64, "type": "quantitative", "axis": null}
          }
        }
      ]
    },
    {
      "columns": 1,
      "align": "none",
      "spacing": 8,
      "concat": [
        {
          "width": 2302,
          "height": 1177,
          "view": {"fill": "#ffffff", "stroke": "#909090", "strokeWidth": 5},
          "layer": [
            {
              "data": {"values": [{"box": "gap"}]},
              "mark": {"type": "rect", "fill": "#f6f6f6", "stroke": null},
              "encoding": {
                "x": {"datum": -5.95, "type": "quantitative", "scale": {"domain": [-1.0, 101.5], "nice": false, "zero": false},
                  "axis": {"values": [0, 20, 40, 60, 80, 100], "title": null, "grid": false, "domain": false, "tickSize": 14, "tickWidth": 2, "tickColor": "#222222", "labelFont": "Liberation Sans", "labelFontSize": 34, "labelColor": "#222222", "labelPadding": 22, "labelFlush": false}},
                "x2": {"datum": 102.3},
                "y": {"datum": -0.0927, "type": "quantitative", "scale": {"domain": [-0.016, 1.022], "nice": false, "zero": false},
                  "axis": {"values": [0, 0.25, 0.5, 0.75, 1], "format": ".2f", "title": null, "grid": false, "domain": false, "tickSize": 13, "tickWidth": 2, "tickColor": "#222222", "labelFont": "Liberation Sans", "labelFontSize": 34, "labelColor": "#222222", "labelPadding": 19, "labelFlush": false, "minExtent": 109}},
                "y2": {"datum": -0.166}
              }
            },
            {
              "data": {"name": "km"},
              "transform": [{"filter": "datum.panel == 'all'"}],
              "mark": {"type": "line", "interpolate": "step-after", "strokeWidth": 2.8},
              "encoding": {
                "x": {"field": "month", "type": "quantitative"},
                "y": {"field": "survival", "type": "quantitative"},
                "color": {"field": "group", "type": "nominal", "scale": {"domain": ["Diabetic", "Non diabetic"], "range": ["#b03a48", "#4040c8"]}, "legend": null}
              }
            },
            {
              "data": {"name": "km"},
              "transform": [{"filter": "datum.panel == 'all' && datum.censored == 1"}],
              "mark": {"type": "point", "shape": "circle", "filled": false, "size": 420, "strokeWidth": 2.4},
              "encoding": {
                "x": {"field": "month", "type": "quantitative"},
                "y": {"field": "survival", "type": "quantitative"},
                "color": {"field": "group", "type": "nominal", "legend": null}
              }
            },
            {
              "data": {"values": [{"label": "All patients"}]},
              "mark": {"type": "text", "font": "Liberation Serif", "fontWeight": "bold", "fontSize": 66, "color": "#1f1f7a", "align": "right", "baseline": "alphabetic"},
              "encoding": {
                "text": {"field": "label"},
                "x": {"datum": 97.3, "type": "quantitative"},
                "y": {"datum": 0.905, "type": "quantitative"}
              }
            },
            {
              "data": {"values": [{"label": "Kaplan Meier (p = 0.219)"}]},
              "mark": {"type": "text", "font": "Liberation Serif", "fontWeight": "bold", "fontSize": 67, "color": "#1f1f7a", "align": "left", "baseline": "alphabetic"},
              "encoding": {
                "text": {"field": "label"},
                "x": {"datum": 7.56, "type": "quantitative"},
                "y": {"datum": 0.042, "type": "quantitative"}
              }
            }
          ]
        },
        {
          "width": 2274,
          "height": 1084,
          "view": {"fill": null, "stroke": null},
          "layer": [
            {
              "data": {"values": [{"box": "bottom strip"}]},
              "mark": {"type": "rect", "fill": "#f6f6f6", "stroke": null},
              "encoding": {
                "x": {"datum": -5.45, "type": "quantitative", "scale": {"domain": [-0.49, 101.39], "nice": false, "zero": false},
                  "axis": {"values": [0, 20, 40, 60, 80, 100], "title": null, "grid": false, "domain": false, "tickSize": 14, "tickWidth": 2, "tickColor": "#222222", "labelFont": "Liberation Sans", "labelFontSize": 34, "labelColor": "#222222", "labelPadding": 22, "labelFlush": false}},
                "x2": {"datum": 103.4},
                "y": {"datum": -0.1032, "type": "quantitative", "scale": {"domain": [-0.021, 1.015], "nice": false, "zero": false},
                  "axis": {"values": [0, 0.25, 0.5, 0.75, 1], "format": ".2f", "title": null, "grid": false, "domain": false, "offset": 20, "tickSize": 12, "tickWidth": 2, "tickColor": "#222222", "labelFont": "Liberation Sans", "labelFontSize": 34, "labelColor": "#222222", "labelPadding": 8, "labelFlush": false}},
                "y2": {"datum": -0.129}
              }
            },
            {
              "data": {"values": [{"box": "frame"}]},
              "mark": {"type": "rect", "fill": "#ffffff", "stroke": "#909090", "strokeWidth": 5},
              "encoding": {
                "x": {"datum": -1.39, "type": "quantitative"},
                "x2": {"datum": 101.39},
                "y": {"datum": -0.021, "type": "quantitative"},
                "y2": {"datum": 1.015}
              }
            },
            {
              "data": {"name": "km"},
              "transform": [{"filter": "datum.panel == 'ch7'"}],
              "mark": {"type": "line", "interpolate": "step-after", "strokeWidth": 2.8},
              "encoding": {
                "x": {"field": "month", "type": "quantitative"},
                "y": {"field": "survival", "type": "quantitative"},
                "color": {"field": "group", "type": "nominal", "scale": {"domain": ["Diabetic", "Non diabetic"], "range": ["#b03a48", "#4040c8"]}, "legend": null}
              }
            },
            {
              "data": {"name": "km"},
              "transform": [{"filter": "datum.panel == 'ch7' && datum.censored == 1"}],
              "mark": {"type": "point", "shape": "circle", "filled": false, "size": 420, "strokeWidth": 2.4},
              "encoding": {
                "x": {"field": "month", "type": "quantitative"},
                "y": {"field": "survival", "type": "quantitative"},
                "color": {"field": "group", "type": "nominal", "legend": null}
              }
            },
            {
              "data": {"values": [{"label": ["Patients with", "Charson index ≥ 7"]}]},
              "mark": {"type": "text", "font": "Liberation Serif", "fontWeight": "bold", "fontSize": 67, "color": "#1f1f7a", "align": "left", "baseline": "alphabetic", "lineHeight": 79},
              "encoding": {
                "text": {"field": "label"},
                "x": {"datum": 74.9, "type": "quantitative"},
                "y": {"datum": 0.885, "type": "quantitative"}
              }
            },
            {
              "data": {"values": [{"label": "Kaplan Meier (p = 0.825)"}]},
              "mark": {"type": "text", "font": "Liberation Serif", "fontWeight": "bold", "fontSize": 67, "color": "#1f1f7a", "align": "left", "baseline": "alphabetic"},
              "encoding": {
                "text": {"field": "label"},
                "x": {"datum": 4.1, "type": "quantitative"},
                "y": {"datum": 0.053, "type": "quantitative"}
              }
            }
          ]
        }
      ]
    }
  ]
}
